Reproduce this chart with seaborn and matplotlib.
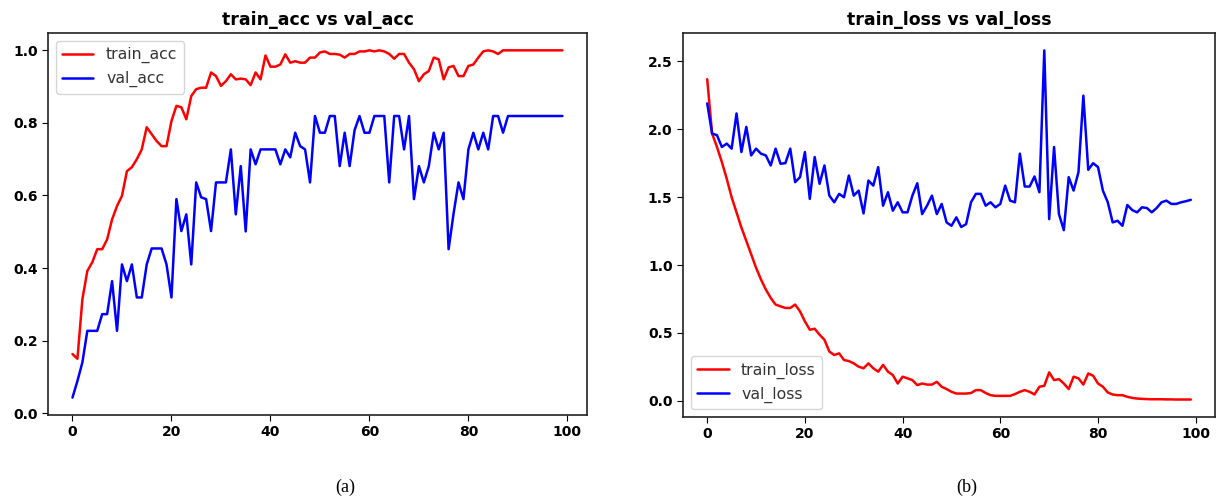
import numpy as np
import pandas as pd
import matplotlib
matplotlib.use("Agg")
import matplotlib.pyplot as plt
import seaborn as sns

epochs = list(range(100))

train_acc = [0.163, 0.15, 0.314, 0.392, 0.416, 0.452, 0.452, 0.479, 0.534, 0.571,
             0.599, 0.667, 0.678, 0.70, 0.727, 0.788, 0.769, 0.75, 0.736, 0.736,
             0.805, 0.847, 0.843, 0.81, 0.874, 0.893, 0.897, 0.897, 0.939, 0.929,
             0.902, 0.915, 0.934, 0.92, 0.922, 0.92, 0.904, 0.939, 0.92, 0.986,
             0.955, 0.955, 0.961, 0.989, 0.966, 0.97, 0.966, 0.966, 0.98, 0.98,
             0.994, 0.997, 0.99, 0.99, 0.988, 0.98, 0.99, 0.99, 0.997, 0.997,
             1.0, 0.997, 1.0, 0.997, 0.99, 0.977, 0.99, 0.99, 0.966, 0.948,
             0.915, 0.934, 0.943, 0.98, 0.975, 0.92, 0.953, 0.957, 0.929, 0.929,
             0.957, 0.961, 0.98, 0.997, 1.0, 0.997, 0.99, 1.0, 1.0, 1.0,
             1.0, 1.0, 1.0, 1.0, 1.0, 1.0, 1.0, 1.0, 1.0, 1.0]

val_acc = [0.043, 0.089, 0.14, 0.227, 0.227, 0.227, 0.273, 0.273, 0.364, 0.227,
           0.41, 0.364, 0.41, 0.319, 0.319, 0.41, 0.454, 0.454, 0.454, 0.41,
           0.319, 0.59, 0.502, 0.548, 0.41, 0.636, 0.595, 0.59, 0.502, 0.636,
           0.636, 0.636, 0.727, 0.548, 0.681, 0.501, 0.727, 0.686, 0.727, 0.727,
           0.727, 0.727, 0.686, 0.727, 0.705, 0.773, 0.736, 0.727, 0.636, 0.819,
           0.773, 0.773, 0.819, 0.819, 0.681, 0.773, 0.681, 0.78, 0.819, 0.773,
           0.773, 0.819, 0.819, 0.819, 0.636, 0.819, 0.819, 0.727, 0.819, 0.59,
           0.681, 0.636, 0.681, 0.773, 0.727, 0.773, 0.452, 0.55, 0.636, 0.59,
           0.727, 0.773, 0.727, 0.773, 0.727, 0.819, 0.819, 0.773, 0.819, 0.819,
           0.819, 0.819, 0.819, 0.819, 0.819, 0.819, 0.819, 0.819, 0.819, 0.819]

train_loss = [2.368, 1.968, 1.869, 1.758, 1.635, 1.499, 1.388, 1.276, 1.178, 1.079,
              0.98, 0.894, 0.82, 0.758, 0.709, 0.696, 0.684, 0.684, 0.709, 0.659,
              0.585, 0.524, 0.531, 0.487, 0.45, 0.363, 0.338, 0.35, 0.301, 0.293,
              0.276, 0.252, 0.24, 0.276, 0.24, 0.215, 0.265, 0.215, 0.19, 0.128,
              0.178, 0.166, 0.153, 0.116, 0.128, 0.12, 0.12, 0.14, 0.104, 0.087,
              0.067, 0.054, 0.054, 0.054, 0.058, 0.079, 0.079, 0.058, 0.042, 0.037,
              0.037, 0.037, 0.037, 0.05, 0.067, 0.079, 0.067, 0.047, 0.104, 0.111,
              0.21, 0.153, 0.16, 0.128, 0.087, 0.178, 0.166, 0.12, 0.202, 0.185,
              0.128, 0.104, 0.062, 0.047, 0.042, 0.042, 0.03, 0.022, 0.017, 0.015,
              0.013, 0.012, 0.012, 0.012, 0.011, 0.011, 0.01, 0.01, 0.01, 0.01]

val_loss = [2.19, 1.968, 1.956, 1.869, 1.894, 1.857, 2.116, 1.832, 2.017, 1.807,
            1.857, 1.82, 1.807, 1.733, 1.857, 1.746, 1.75, 1.857, 1.61, 1.647,
            1.832, 1.487, 1.795, 1.598, 1.733, 1.511, 1.462, 1.524, 1.499, 1.659,
            1.511, 1.548, 1.38, 1.622, 1.585, 1.721, 1.437, 1.536, 1.40, 1.462,
            1.388, 1.388, 1.511, 1.602, 1.375, 1.437, 1.511, 1.375, 1.45, 1.314,
            1.289, 1.351, 1.28, 1.301, 1.462, 1.524, 1.524, 1.437, 1.462, 1.425,
            1.45, 1.585, 1.474, 1.462, 1.82, 1.578, 1.578, 1.652, 1.536, 2.58,
            1.338, 1.869, 1.375, 1.257, 1.647, 1.548, 1.684, 2.247, 1.701, 1.75,
            1.721, 1.548, 1.462, 1.314, 1.326, 1.289, 1.442, 1.405, 1.388, 1.425,
            1.42, 1.388, 1.42, 1.462, 1.474, 1.45, 1.45, 1.462, 1.47, 1.48]

titles = ["train_acc vs val_acc", "train_loss vs val_loss"]
captions = ["(a)", "(b)"]

sns.set_style("ticks")
plt.rcParams['font.family'] = ['DejaVu Sans']
plt.rcParams['text.color'] = 'black'
plt.rcParams['xtick.color'] = 'black'
plt.rcParams['ytick.color'] = 'black'

fig = plt.figure(figsize=(12.21, 5.01), dpi=100)
ax1 = fig.add_axes([0.0393, 0.1717, 0.4414, 0.7625])
ax2 = fig.add_axes([0.5594, 0.1677, 0.4357, 0.7665])

sns.lineplot(x=epochs, y=train_acc, ax=ax1, color="red", lw=1.8, label="train_acc")
sns.lineplot(x=epochs, y=val_acc, ax=ax1, color="blue", lw=1.8, label="val_acc")
sns.lineplot(x=epochs, y=train_loss, ax=ax2, color="red", lw=1.8, label="train_loss")
sns.lineplot(x=epochs, y=val_loss, ax=ax2, color="blue", lw=1.8, label="val_loss")

for ax, loc in [(ax1, "upper left"), (ax2, "lower left")]:
    leg = ax.legend(loc=loc, fontsize=11.3)
    for txt in leg.get_texts():
        txt.set_color("#333333")

ax1.set_yticks([0.0, 0.2, 0.4, 0.6, 0.8, 1.0])
ax2.set_yticks([0.0, 0.5, 1.0, 1.5, 2.0, 2.5])

for ax, t in zip([ax1, ax2], titles):
    ax.set_title(t, fontsize=12.5, fontweight="bold", color="black", pad=6)
    ax.set_xticks([0, 20, 40, 60, 80, 100])
    for lab in ax.get_xticklabels() + ax.get_yticklabels():
        lab.set_fontweight("bold")
        lab.set_fontsize(10)
        lab.set_color("black")
    ax.tick_params(colors="black", direction="out", length=4)
    for s in ax.spines.values():
        s.set_color("#222222")
        s.set_linewidth(1.2)

fig.text(345 / 1221, 1 - 487 / 501, captions[0], ha="center", va="center",
         fontsize=13, family="Liberation Serif", color="black")
fig.text(967 / 1221, 1 - 487 / 501, captions[1], ha="center", va="center",
         fontsize=13, family="Liberation Serif", color="black")

fig.savefig("out.png", dpi=100)
